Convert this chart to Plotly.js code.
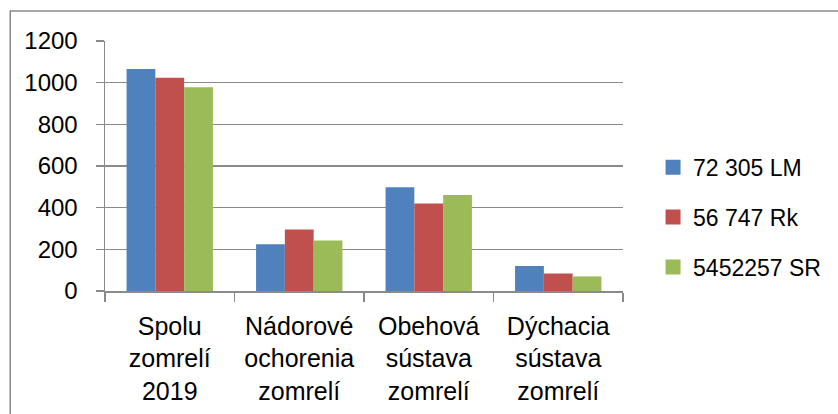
<!DOCTYPE html>
<html>
<head>
<meta charset="utf-8">
<script src="https://cdn.plot.ly/plotly-3.0.1.min.js"></script>
<style>
html,body{margin:0;padding:0;background:#fff;}
#chart{width:838px;height:414px;}
</style>
</head>
<body>
<div id="chart"></div>
<script>
const categories = [
  "Spolu<br>zomrelí<br>2019",
  "Nádorové<br>ochorenia<br>zomrelí",
  "Obehová<br>sústava<br>zomrelí",
  "Dýchacia<br>sústava<br>zomrelí"
];
const seriesNames = ["72 305 LM", "56 747 Rk", "5452257 SR"];
const valuesLM = [1066, 224, 498, 120];
const valuesRk = [1024, 295, 420, 84];
const valuesSR = [978, 243, 461, 70];
const colors = ["#4F81BD", "#C0504D", "#9BBB59"];
const yTicks = [0, 200, 400, 600, 800, 1000, 1200];

const allValues = [valuesLM, valuesRk, valuesSR];
const traces = allValues.map((v, i) => ({
  type: "bar",
  x: categories,
  y: v,
  name: seriesNames[i],
  legendgroup: "g" + i,
  marker: {color: colors[i], line: {width: 0}},
  hoverinfo: "none"
}));

const layout = {
  width: 838,
  height: 414,
  margin: {l: 105, r: 211, t: 41, b: 123},
  paper_bgcolor: "#ffffff",
  plot_bgcolor: "#ffffff",
  barmode: "group",
  bargap: 0.333,
  bargroupgap: 0,
  showlegend: true,
  legend: {
    x: 1.058, xanchor: "left",
    y: 0.295, yanchor: "middle",
    font: {family: "Liberation Sans, Arial, sans-serif", size: 23, color: "#000"},
    tracegroupgap: 17,
    bgcolor: "rgba(0,0,0,0)"
  },
  xaxis: {
    type: "category",
    tickson: "boundaries",
    ticks: "outside",
    ticklen: 9,
    tickwidth: 1.5,
    tickcolor: "#8a8a8a",
    showline: true,
    linecolor: "#8a8a8a",
    linewidth: 1.5,
    showgrid: false,
    tickfont: {family: "Liberation Sans, Arial, sans-serif", size: 25, color: "#000"},
    ticklabelstandoff: 12,
    fixedrange: true
  },
  yaxis: {
    range: [0, 1200],
    tickvals: yTicks,
    ticktext: yTicks.map(String),
    ticks: "outside",
    ticklen: 8,
    tickwidth: 1.5,
    tickcolor: "#8a8a8a",
    showline: true,
    linecolor: "#8a8a8a",
    linewidth: 1.5,
    showgrid: true,
    gridcolor: "#8a8a8a",
    gridwidth: 1.5,
    zeroline: false,
    tickfont: {family: "Liberation Sans, Arial, sans-serif", size: 24, color: "#000"},
    ticklabelstandoff: 13,
    fixedrange: true
  },
  shapes: [{
    type: "rect",
    xref: "paper", yref: "paper",
    x0: (9.5 - 105) / 522, x1: 2,
    y0: -1, y1: (291 - 11) / 250,
    line: {color: "#8a8a8a", width: 1.5},
    fillcolor: "rgba(0,0,0,0)",
    layer: "below"
  }]
};

Plotly.newPlot("chart", traces, layout, {displayModeBar: false, staticPlot: true}).then(gd => {
  // slightly larger legend swatches, as in the reference
  gd.querySelectorAll("g.legendpoints path").forEach(p => {
    const tr = p.getAttribute("transform") || "";
    p.setAttribute("transform", tr + " scale(1.25)");
  });
});
</script>
</body>
</html>
